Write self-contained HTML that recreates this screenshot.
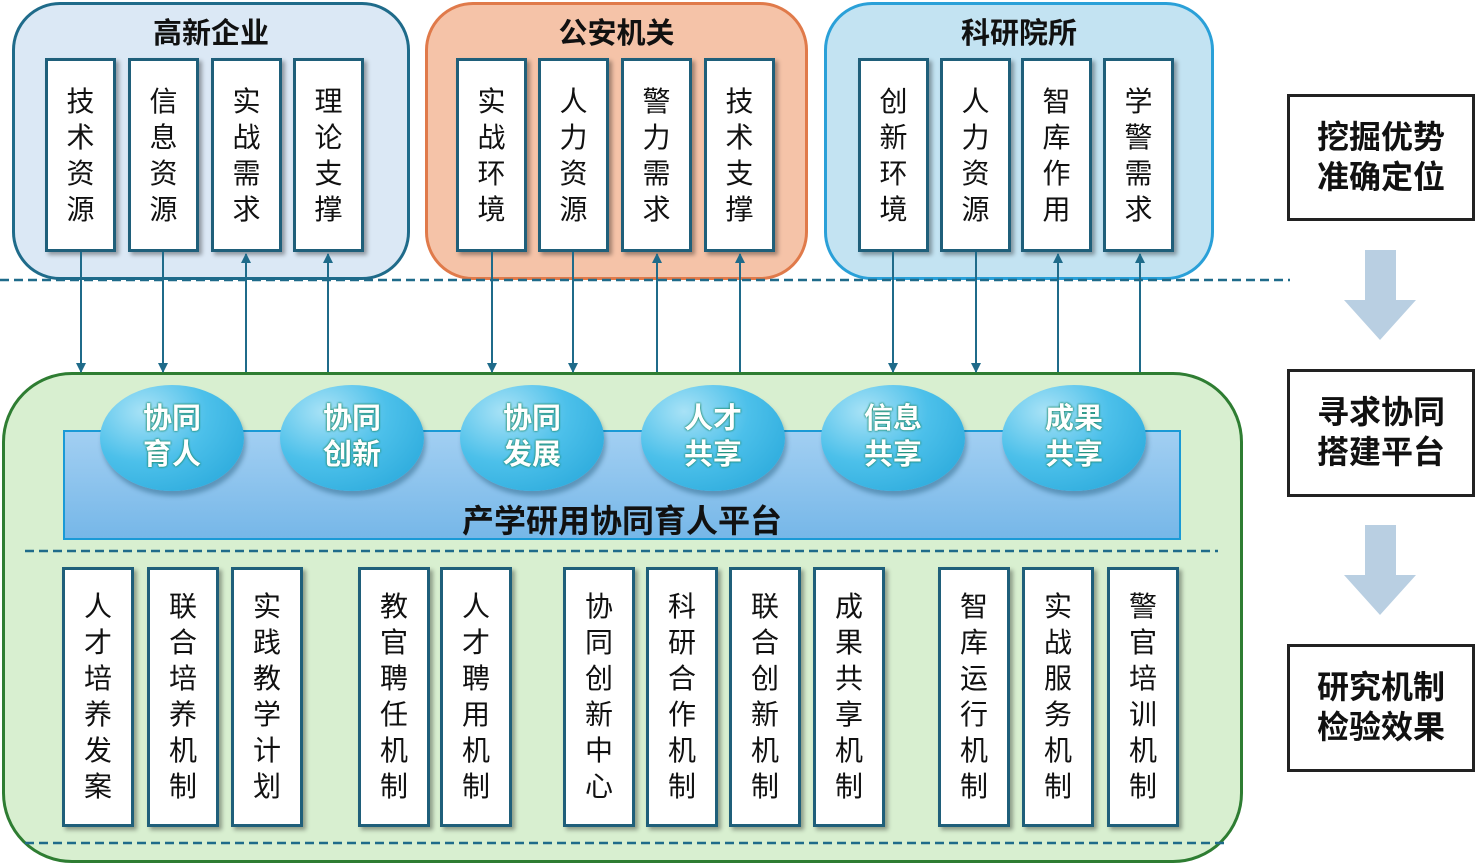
<!DOCTYPE html><html><head><meta charset="utf-8"><style>
body{margin:0;width:1476px;height:865px;background:#fff;position:relative;overflow:hidden;font-family:"Liberation Sans","Noto Sans CJK SC",sans-serif}
.a{position:absolute;box-sizing:border-box}
.grp{border:3px solid;border-radius:48px}
.gt{position:absolute;top:5px;left:0;right:0;text-align:center;font-size:29px;font-weight:bold;color:#111}
.bx{background:#fff;border:3px solid #1f5f7a;box-shadow:3px 3px 4px rgba(0,0,0,.35);text-align:center;font-size:28px;line-height:36px;color:#111;padding-top:23px}
.bb{padding-top:19px}
.el{position:absolute;width:144px;height:106px;border-radius:50%;background:radial-gradient(ellipse at 30% 25%,#a8e2f6 0%,#4cc0ea 45%,#22a4d8 100%);box-shadow:2px 5px 5px rgba(0,60,90,.35);color:#fff;font-weight:bold;font-size:29px;line-height:36px;text-align:center;padding-top:16px;box-sizing:border-box;text-shadow:0 0 2px #1c8a6a,0 0 2px #1c8a6a}
.rb{border:3px solid #222;text-align:center;font-size:32px;font-weight:bold;line-height:40px;padding-top:20px;color:#111}
</style></head><body>
<div class="a grp" style="left:12px;top:2px;width:398px;height:278px;background:#dbe8f5;border-color:#1f6b8a"><div class="gt">高新企业</div></div>
<div class="a grp" style="left:425px;top:2px;width:383px;height:278px;background:#f5c3a8;border-color:#e07a4a"><div class="gt">公安机关</div></div>
<div class="a grp" style="left:824px;top:2px;width:390px;height:278px;background:#c3e3f2;border-color:#2aa0d8"><div class="gt">科研院所</div></div>

<div class="a bx" style="left:45px;top:58px;width:71px;height:194px">技<br>术<br>资<br>源</div>
<div class="a bx" style="left:128px;top:58px;width:71px;height:194px">信<br>息<br>资<br>源</div>
<div class="a bx" style="left:211px;top:58px;width:71px;height:194px">实<br>战<br>需<br>求</div>
<div class="a bx" style="left:293px;top:58px;width:71px;height:194px">理<br>论<br>支<br>撑</div>
<div class="a bx" style="left:456px;top:58px;width:71px;height:194px">实<br>战<br>环<br>境</div>
<div class="a bx" style="left:538px;top:58px;width:71px;height:194px">人<br>力<br>资<br>源</div>
<div class="a bx" style="left:621px;top:58px;width:71px;height:194px">警<br>力<br>需<br>求</div>
<div class="a bx" style="left:704px;top:58px;width:71px;height:194px">技<br>术<br>支<br>撑</div>
<div class="a bx" style="left:858px;top:58px;width:71px;height:194px">创<br>新<br>环<br>境</div>
<div class="a bx" style="left:940px;top:58px;width:71px;height:194px">人<br>力<br>资<br>源</div>
<div class="a bx" style="left:1021px;top:58px;width:71px;height:194px">智<br>库<br>作<br>用</div>
<div class="a bx" style="left:1103px;top:58px;width:71px;height:194px">学<br>警<br>需<br>求</div>

<div class="a" style="left:2px;top:372px;width:1241px;height:491px;border:3px solid #2e7d32;border-radius:70px;background:#d8efd0"></div>
<div class="a" style="left:63px;top:430px;width:1118px;height:110px;border:2px solid #1a9ad6;background:linear-gradient(#a2cff2,#76b7e8)"></div>
<div class="a" style="left:63px;top:496px;width:1118px;text-align:center;font-size:32px;font-weight:bold;color:#111">产学研用协同育人平台</div>

<svg class="a" style="left:0;top:0" width="1476" height="865">
<defs>
<marker id="d" markerWidth="10" markerHeight="10" refX="5" refY="9" orient="0" markerUnits="userSpaceOnUse"><path d="M0,0 L10,0 L5,10 z" fill="#1f6b8a"/></marker>
<marker id="u" markerWidth="10" markerHeight="10" refX="5" refY="1" orient="0" markerUnits="userSpaceOnUse"><path d="M0,10 L10,10 L5,0 z" fill="#1f6b8a"/></marker></defs>
<g stroke="#1f6b8a" stroke-width="2.5" fill="none">
<line x1="0" y1="280" x2="1290" y2="280" stroke-dasharray="9,5"/>
<line x1="25" y1="551" x2="1218" y2="551" stroke-dasharray="9,5"/>
<line x1="25" y1="843" x2="1225" y2="843" stroke-dasharray="9,5"/>
</g>
<g stroke="#1f6b8a" stroke-width="2">
<line x1="81" y1="252" x2="81" y2="372" marker-end="url(#d)"/>
<line x1="163" y1="252" x2="163" y2="372" marker-end="url(#d)"/>
<line x1="246" y1="372" x2="246" y2="254" marker-end="url(#u)"/>
<line x1="328" y1="372" x2="328" y2="254" marker-end="url(#u)"/>
<line x1="492" y1="252" x2="492" y2="372" marker-end="url(#d)"/>
<line x1="573" y1="252" x2="573" y2="372" marker-end="url(#d)"/>
<line x1="657" y1="372" x2="657" y2="254" marker-end="url(#u)"/>
<line x1="740" y1="372" x2="740" y2="254" marker-end="url(#u)"/>
<line x1="893" y1="252" x2="893" y2="372" marker-end="url(#d)"/>
<line x1="976" y1="252" x2="976" y2="372" marker-end="url(#d)"/>
<line x1="1058" y1="372" x2="1058" y2="254" marker-end="url(#u)"/>
<line x1="1140" y1="372" x2="1140" y2="254" marker-end="url(#u)"/>
</g>
<path d="M1365,250 H1396 V300 H1416 L1380,340 L1344,300 H1365 Z" fill="#b9cfe2"/>
<path d="M1365,525 H1396 V575 H1416 L1380,615 L1344,575 H1365 Z" fill="#b9cfe2"/>
</svg>

<div class="el" style="left:100px;top:385px">协同<br>育人</div>
<div class="el" style="left:280px;top:385px">协同<br>创新</div>
<div class="el" style="left:460px;top:385px">协同<br>发展</div>
<div class="el" style="left:641px;top:385px">人才<br>共享</div>
<div class="el" style="left:821px;top:385px">信息<br>共享</div>
<div class="el" style="left:1002px;top:385px">成果<br>共享</div>

<div class="a bx bb" style="left:62px;top:567px;width:72px;height:260px">人<br>才<br>培<br>养<br>发<br>案</div>
<div class="a bx bb" style="left:147px;top:567px;width:72px;height:260px">联<br>合<br>培<br>养<br>机<br>制</div>
<div class="a bx bb" style="left:231px;top:567px;width:72px;height:260px">实<br>践<br>教<br>学<br>计<br>划</div>
<div class="a bx bb" style="left:358px;top:567px;width:72px;height:260px">教<br>官<br>聘<br>任<br>机<br>制</div>
<div class="a bx bb" style="left:440px;top:567px;width:72px;height:260px">人<br>才<br>聘<br>用<br>机<br>制</div>
<div class="a bx bb" style="left:563px;top:567px;width:72px;height:260px">协<br>同<br>创<br>新<br>中<br>心</div>
<div class="a bx bb" style="left:646px;top:567px;width:72px;height:260px">科<br>研<br>合<br>作<br>机<br>制</div>
<div class="a bx bb" style="left:729px;top:567px;width:72px;height:260px">联<br>合<br>创<br>新<br>机<br>制</div>
<div class="a bx bb" style="left:813px;top:567px;width:72px;height:260px">成<br>果<br>共<br>享<br>机<br>制</div>
<div class="a bx bb" style="left:938px;top:567px;width:72px;height:260px">智<br>库<br>运<br>行<br>机<br>制</div>
<div class="a bx bb" style="left:1022px;top:567px;width:72px;height:260px">实<br>战<br>服<br>务<br>机<br>制</div>
<div class="a bx bb" style="left:1107px;top:567px;width:72px;height:260px">警<br>官<br>培<br>训<br>机<br>制</div>

<div class="a rb" style="left:1287px;top:94px;width:188px;height:127px">挖掘优势<br>准确定位</div>
<div class="a rb" style="left:1287px;top:369px;width:188px;height:128px">寻求协同<br>搭建平台</div>
<div class="a rb" style="left:1287px;top:644px;width:188px;height:128px">研究机制<br>检验效果</div>
</body></html>
